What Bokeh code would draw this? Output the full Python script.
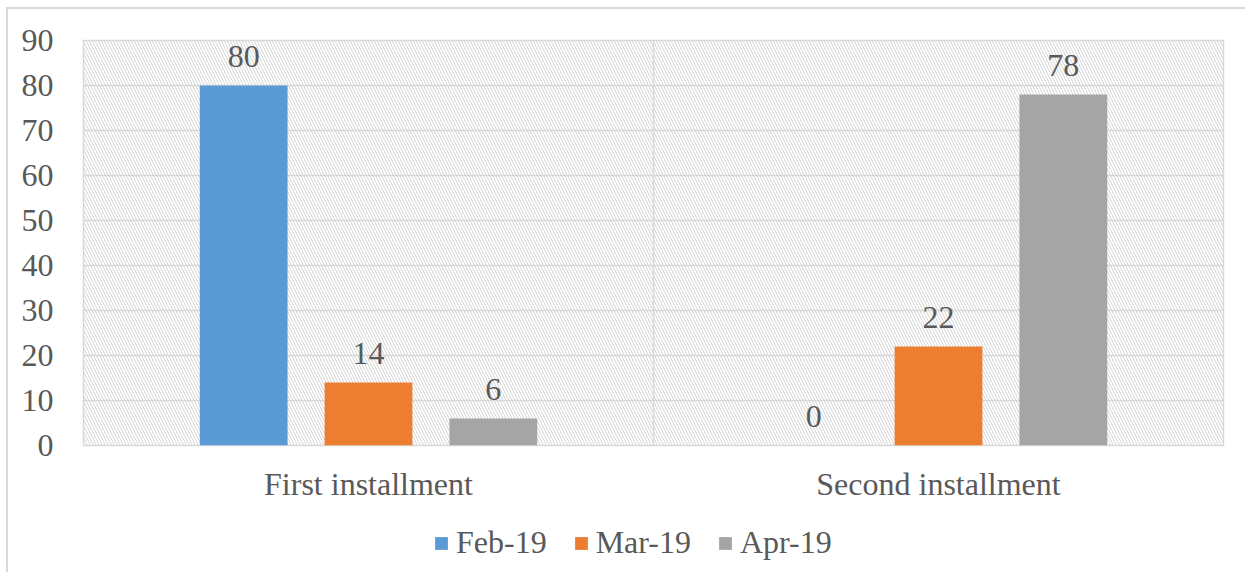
from bokeh.plotting import figure
from bokeh.layouts import column
from bokeh.models import (ColumnDataSource, FactorRange, LabelSet, Legend, LegendItem,
                          BoxAnnotation, Span)
from bokeh.transform import dodge
from bokeh.embed import file_html
from bokeh.resources import INLINE

# Survey counts per installment, by month
categories = ["First installment", "Second installment"]
months = ["Feb-19", "Mar-19", "Apr-19"]
feb = [80, 0]
mar = [14, 22]
apr = [6, 78]
y_ticks = [0, 10, 20, 30, 40, 50, 60, 70, 80, 90]

colors = ["#5b9bd5", "#ed7d31", "#a5a5a5"]
TEXT = "#595959"
GRID = "#d9d9d9"
FONT = "Liberation Serif"
FS = "32px"

source = ColumnDataSource(dict(
    cat=categories, feb=feb, mar=mar, apr=apr,
    feb_lbl=[str(v) for v in feb], mar_lbl=[str(v) for v in mar], apr_lbl=[str(v) for v in apr],
))

p = figure(
    x_range=FactorRange(*categories, range_padding=0),
    y_range=(0, 90),
    width=1237, height=501,
    output_backend="svg", toolbar_location=None,
    min_border_left=75, min_border_right=22, min_border_top=31, min_border_bottom=65,
)
p.background_fill_color = "white"
p.border_fill_color = "white"
p.outline_line_color = GRID
p.outline_line_width = 1.5

# diagonal hatch over the plotting area
p.add_layout(BoxAnnotation(fill_alpha=0, line_alpha=0, hatch_pattern="\\",
                           hatch_color="#d4d4d4", hatch_scale=6, hatch_weight=1,
                           level="underlay"))

bar_w = 0.154
offs = [-0.219, 0.0, 0.219]
fields = ["feb", "mar", "apr"]
for f, off, c in zip(fields, offs, colors):
    p.vbar(x=dodge("cat", off, range=p.x_range), top=f, width=bar_w, source=source,
           fill_color=c, line_color=None)
    p.add_layout(LabelSet(x=dodge("cat", off, range=p.x_range), y=f, text=f + "_lbl",
                          source=source, text_align="center", text_baseline="bottom",
                          y_offset=19, text_font=FONT, text_font_size=FS,
                          text_color=TEXT))

# separator between the two categories
p.add_layout(Span(location=1, dimension="height", line_color=GRID, line_width=1.5))

p.xgrid.grid_line_color = None
p.ygrid.grid_line_color = GRID
p.ygrid.grid_line_width = 1.5
p.yaxis.ticker = y_ticks

for ax in (p.xaxis, p.yaxis):
    ax.axis_line_color = None
    ax.major_tick_line_color = None
    ax.minor_tick_line_color = None
    ax.major_label_text_font = FONT
    ax.major_label_text_font_size = FS
    ax.major_label_text_color = TEXT
p.yaxis.major_label_standoff = 24
p.xaxis.major_label_standoff = 14

# legend strip underneath the chart; its bars sit outside the visible y range
leg_fig = figure(width=1237, height=62, output_backend="svg", toolbar_location=None,
                 min_border=0, outline_line_color=None,
                 x_range=FactorRange(*categories), y_range=(1000, 1001))
leg_fig.axis.visible = False
leg_fig.grid.visible = False
swatches = [leg_fig.vbar(x="cat", top=f, width=0.1, source=source,
                         fill_color=c, line_color=None) for f, c in zip(fields, colors)]
legend = Legend(
    items=[LegendItem(label=m, renderers=[r]) for m, r in zip(months, swatches)],
    orientation="horizontal", location=(350, 11),
    glyph_width=16, glyph_height=16, label_standoff=7, spacing=26,
    padding=0, margin=0, border_line_color=None, background_fill_alpha=0,
    label_text_font=FONT, label_text_font_size=FS, label_text_color=TEXT,
)
leg_fig.add_layout(legend, "center")

layout = column(p, leg_fig, spacing=0,
                styles={"margin-left": "6px", "margin-top": "7px",
                        "border-left": "2px solid #d9d9d9", "border-top": "2px solid #d9d9d9",
                        "background-color": "white"})

open("out.html", "w").write(file_html(layout, INLINE))
